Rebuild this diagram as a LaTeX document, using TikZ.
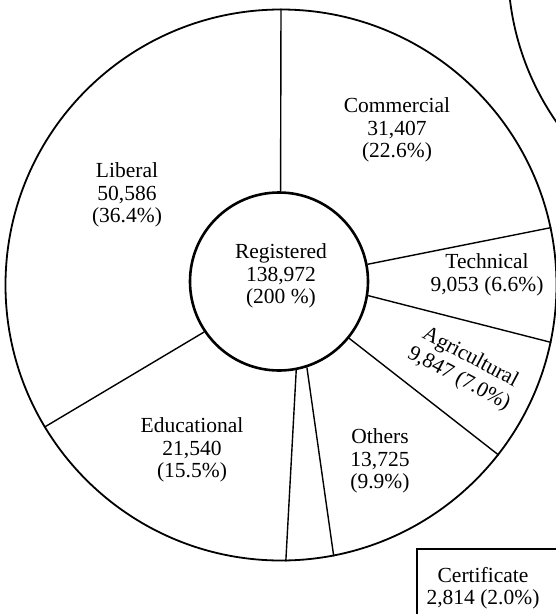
\documentclass[tikz,border=0pt]{standalone}
\usepackage{fontspec}
\setmainfont{Liberation Serif}
\begin{document}
\begin{tikzpicture}[x=1pt,y=-1pt,
  ringline/.style={line width=1.8pt},
  hubline/.style={line width=2.6pt},
  spoke/.style={line width=1.4pt},
  lbl/.style={align=center, inner sep=0pt, font=\fontsize{21.5}{22.5}\selectfont}]
\useasboundingbox (0,0) rectangle (556,614);
\fill[white] (0,0) rectangle (556,614);
\clip (0,0) rectangle (556,614);

% outer ring and central hub
\node[circle, draw, ringline, minimum size=551pt, inner sep=0pt] (ring) at (281,285) {};
\node[circle, draw, hubline, minimum size=178pt, inner sep=0pt] (hub) at (279,281.5) {};

% neighbouring ring, partly off the page
\draw[ringline] (780,-33) circle[radius=272];

% sector boundaries
\draw[spoke] (hub.89.4)  -- (ring.90.6);
\draw[spoke] (hub.11.7)  -- (ring.12.9);
\draw[spoke] (hub.-9.05) -- (ring.-12.1);
\draw[spoke] (hub.-39.6) -- (ring.-38.8);
\draw[spoke] (hub.-72.9) -- (ring.-79.7);
\draw[spoke] (hub.-79)   -- (ring.-89.6);
\draw[spoke] (hub.214.8) -- (ring.211.6);

% sector labels
\node[lbl] (registered) at (281,276) {Registered\\138,972\\(200 \%)};
\node[lbl] (liberal) at (127,195) {Liberal\\50,586\\(36.4\%)};
\node[lbl] (commercial) at (397,130) {Commercial\\31,407\\(22.6\%)};
\node[lbl] (technical) at (487,275) {Technical\\9,053 (6.6\%)};
\node[lbl, rotate=-28, font=\fontsize{21.5}{24}\selectfont] (agricultural) at (464.5,368.5) {Agricultural\\9,847 (7.0\%)};
\node[lbl] (educational) at (192,450) {Educational\\21,540\\(15.5\%)};
\node[lbl] (others) at (380,461) {Others\\13,725\\(9.9\%)};

% certificate box
\draw[line width=1.6pt] (417,549) rectangle (640,660);
\node[lbl] (certificate) at (483,588) {Certificate\\2,814 (2.0\%)};
\end{tikzpicture}
\end{document}
